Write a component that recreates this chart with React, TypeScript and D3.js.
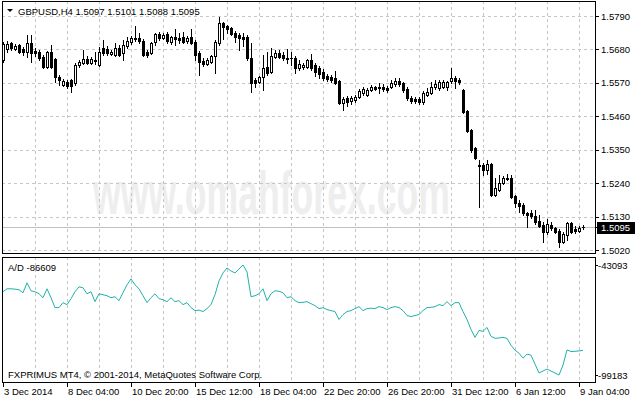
import React from "react";
import * as d3 from "d3";

const symbolTitle = "GBPUSD,H4  1.5097 1.5101 1.5088 1.5095";
const adLabel = "A/D -86609";
const copyright = "FXPRIMUS MT4, © 2001-2014, MetaQuotes Software Corp.";
const watermark = "www.omahforex.com";

const opens = [
  1.5645, 1.5681, 1.5701, 1.5681, 1.5694, 1.5681, 1.5671, 1.5701, 1.5675, 1.5671,
  1.5655, 1.5622, 1.5671, 1.5648, 1.5589, 1.5563, 1.5573, 1.5579, 1.5569, 1.5629,
  1.5635, 1.5648, 1.5635, 1.5645, 1.5629, 1.5685, 1.5681, 1.5665, 1.5662, 1.5685,
  1.5668, 1.5691, 1.5704, 1.5714, 1.5718, 1.5708, 1.5671, 1.5668, 1.5704, 1.5731,
  1.5718, 1.5731, 1.5704, 1.5721, 1.5718, 1.5721, 1.5708, 1.5721, 1.5704, 1.5668,
  1.5642, 1.5632, 1.5638, 1.5658, 1.5701, 1.5767, 1.5757, 1.575, 1.5734, 1.5727,
  1.5721, 1.5721, 1.5652, 1.5579, 1.5573, 1.5589, 1.5622, 1.5606, 1.5655, 1.5668,
  1.5662, 1.5652, 1.5652, 1.5652, 1.5619, 1.5622, 1.5622, 1.5645, 1.5629, 1.5619,
  1.5606, 1.5592, 1.5589, 1.5586, 1.5576, 1.5503, 1.552, 1.551, 1.5513, 1.5523,
  1.5536, 1.553, 1.5546, 1.5556, 1.5553, 1.5556, 1.5553, 1.5556, 1.5566, 1.5576,
  1.5569, 1.555, 1.552, 1.5517, 1.5517, 1.5507, 1.553, 1.5536, 1.5556, 1.5553,
  1.5556, 1.5556, 1.5576, 1.5586, 1.5579, 1.5546, 1.5477, 1.5414, 1.5355, 1.5299,
  1.5299, 1.5283, 1.5302, 1.52, 1.5217, 1.524, 1.5256, 1.5256, 1.5197, 1.5174,
  1.5167, 1.5141, 1.5141, 1.5131, 1.5115, 1.5102, 1.5079, 1.5102, 1.5092, 1.5082,
  1.5046, 1.5069, 1.5108, 1.5088, 1.5082, 1.5097,
];
const highs = [
  1.5704, 1.5708, 1.5704, 1.5698, 1.5698, 1.5688, 1.5727, 1.5727, 1.5685, 1.5678,
  1.5662, 1.5675, 1.5694, 1.5652, 1.5596, 1.5582, 1.5579, 1.5582, 1.5635, 1.5645,
  1.5678, 1.5658, 1.5655, 1.5671, 1.5688, 1.5711, 1.5691, 1.5678, 1.5701, 1.5694,
  1.5711, 1.5721, 1.5724, 1.5757, 1.5734, 1.5714, 1.5678, 1.5704, 1.5734, 1.5737,
  1.5734, 1.5737, 1.5724, 1.5747, 1.5734, 1.5737, 1.5724, 1.5747, 1.5711, 1.5675,
  1.5652, 1.5652, 1.5662, 1.5711, 1.5787, 1.577, 1.576, 1.5754, 1.5741, 1.5734,
  1.5734, 1.5727, 1.5701, 1.5586, 1.5592, 1.5662, 1.5671, 1.5685, 1.5678, 1.5678,
  1.5671, 1.5681, 1.5671, 1.5658, 1.5645, 1.5635, 1.5648, 1.5665, 1.5635, 1.5625,
  1.5615, 1.5599, 1.5596, 1.5609, 1.5579, 1.5523, 1.5526, 1.5526, 1.553, 1.555,
  1.5556, 1.5553, 1.5563, 1.5559, 1.5569, 1.5566, 1.5559, 1.5579, 1.5586, 1.5586,
  1.5573, 1.5556, 1.5526, 1.5523, 1.5523, 1.5543, 1.5553, 1.5573, 1.5579, 1.5579,
  1.5579, 1.5576, 1.5619, 1.5592, 1.5586, 1.555, 1.548, 1.5418, 1.5358, 1.5316,
  1.5306, 1.5316, 1.5306, 1.5256, 1.5266, 1.5263, 1.527, 1.5266, 1.52, 1.5184,
  1.5174, 1.5144, 1.5151, 1.5151, 1.5134, 1.5111, 1.5121, 1.5111, 1.5095, 1.5088,
  1.5079, 1.5111, 1.5111, 1.5098, 1.5098, 1.5101,
];
const lows = [
  1.5638, 1.5671, 1.5678, 1.5678, 1.5668, 1.5662, 1.5655, 1.5638, 1.5658, 1.5645,
  1.5619, 1.5619, 1.5619, 1.5573, 1.5563, 1.5559, 1.5553, 1.554, 1.5563, 1.5622,
  1.5632, 1.5632, 1.5632, 1.5632, 1.5625, 1.5662, 1.5662, 1.5662, 1.5658, 1.5658,
  1.5645, 1.5685, 1.5698, 1.5708, 1.5701, 1.5658, 1.5655, 1.5665, 1.5694, 1.5711,
  1.5714, 1.5701, 1.5698, 1.5694, 1.5701, 1.5701, 1.5701, 1.5698, 1.5645, 1.5596,
  1.5625, 1.5629, 1.5635, 1.5602, 1.5694, 1.5714, 1.5734, 1.5727, 1.5704, 1.5678,
  1.5691, 1.5645, 1.554, 1.5556, 1.5569, 1.5546, 1.5596, 1.5602, 1.5652, 1.5652,
  1.5645, 1.5635, 1.5629, 1.5602, 1.5612, 1.5615, 1.5619, 1.5612, 1.5592, 1.5586,
  1.5579, 1.5576, 1.5573, 1.5566, 1.55, 1.548, 1.5494, 1.55, 1.5507, 1.552,
  1.553, 1.5526, 1.5543, 1.5546, 1.5536, 1.5543, 1.554, 1.5553, 1.5559, 1.5559,
  1.554, 1.5513, 1.5503, 1.5503, 1.55, 1.55, 1.5526, 1.5533, 1.555, 1.5546,
  1.5553, 1.5546, 1.5569, 1.5553, 1.5566, 1.547, 1.5408, 1.5342, 1.5319, 1.5161,
  1.5266, 1.527, 1.5197, 1.5197, 1.5214, 1.5237, 1.525, 1.519, 1.5161, 1.5144,
  1.5134, 1.5095, 1.5125, 1.5105, 1.5095, 1.5046, 1.5072, 1.5085, 1.5075, 1.5029,
  1.5042, 1.5052, 1.5075, 1.5075, 1.5079, 1.5088,
];
const closes = [
  1.5698, 1.5698, 1.5685, 1.5691, 1.5671, 1.5671, 1.5701, 1.5668, 1.5668, 1.5652,
  1.5622, 1.5671, 1.5622, 1.5589, 1.5579, 1.5576, 1.5559, 1.5559, 1.5629, 1.5638,
  1.5648, 1.5635, 1.5648, 1.5642, 1.5671, 1.5668, 1.5668, 1.5671, 1.5685, 1.5662,
  1.5694, 1.5708, 1.5718, 1.5718, 1.5708, 1.5662, 1.5662, 1.5701, 1.5731, 1.5718,
  1.5727, 1.5708, 1.5721, 1.5714, 1.5711, 1.5704, 1.5718, 1.5701, 1.5662, 1.5638,
  1.5632, 1.5645, 1.5658, 1.5704, 1.5767, 1.5754, 1.5747, 1.5731, 1.5721, 1.5718,
  1.5714, 1.5652, 1.5569, 1.5569, 1.5589, 1.5619, 1.5602, 1.5658, 1.5668, 1.5655,
  1.5652, 1.5648, 1.5651, 1.5619, 1.5632, 1.5629, 1.5645, 1.5619, 1.5606, 1.5599,
  1.5586, 1.5582, 1.5579, 1.5569, 1.5503, 1.5517, 1.5507, 1.552, 1.5523, 1.5543,
  1.555, 1.5546, 1.5556, 1.555, 1.5555, 1.555, 1.5546, 1.5569, 1.5576, 1.5566,
  1.5546, 1.552, 1.551, 1.551, 1.5507, 1.5536, 1.554, 1.5556, 1.5566, 1.5573,
  1.5573, 1.5573, 1.5586, 1.5576, 1.5573, 1.5474, 1.5411, 1.5349, 1.5322, 1.5296,
  1.5283, 1.5302, 1.52, 1.5223, 1.524, 1.5256, 1.5255, 1.5194, 1.5174, 1.5164,
  1.5141, 1.5134, 1.5131, 1.5111, 1.5098, 1.5079, 1.5105, 1.5092, 1.5079, 1.5046,
  1.5072, 1.5108, 1.5079, 1.5082, 1.5092, 1.5095,
];
const adValues = [
  -56740, -55220, -55220, -55400, -55730, -57240, -52190, -56230, -56740, -57750,
  -59770, -55220, -59770, -64820, -64820, -62290, -63300, -60270, -56740, -54210,
  -54710, -57750, -56740, -61790, -57750, -58250, -58760, -59770, -59260, -61280,
  -57240, -53200, -50170, -53200, -55220, -58760, -62290, -59770, -57750, -60270,
  -60780, -61790, -59770, -61790, -61280, -63300, -62290, -64820, -66340, -66100,
  -66840, -65330, -63300, -58250, -51180, -47140, -44610, -46130, -47140, -45110,
  -43093, -46630, -59260, -58760, -57750, -55220, -61280, -57750, -56230, -56500,
  -57240, -59770, -59260, -61280, -62290, -62100, -61790, -62800, -63810, -65330,
  -64820, -65830, -66340, -66840, -70890, -68360, -66840, -66340, -65330, -64320,
  -66340, -65330, -65100, -65330, -64320, -64820, -65830, -64820, -64320, -64820,
  -66340, -68860, -69370, -68860, -68360, -66340, -64820, -64700, -64320, -63300,
  -63810, -61790, -63810, -62290, -62290, -66840, -70890, -75940, -79980, -76440,
  -76950, -74930, -79480, -80490, -80300, -79980, -80490, -84020, -86550, -88060,
  -90590, -88570, -89080, -93620, -98170, -97160, -96150, -97160, -98170, -99183,
  -94130, -86400, -87200, -87100, -86900, -86609,
];
const priceTicks = [1.579, 1.568, 1.557, 1.546, 1.535, 1.524, 1.513, 1.502];
const adTicks = [-43093, -99183];
const timeLabels = [
  "3 Dec 2014", "8 Dec 04:00", "10 Dec 20:00", "15 Dec 12:00", "18 Dec 04:00",
  "22 Dec 20:00", "26 Dec 20:00", "31 Dec 12:00", "6 Jan 12:00", "9 Jan 04:00",
];
const lastPrice = 1.5095;

const W = 635;
const H = 400;
const LEFT = 2;
const RIGHT = 595;
const MAIN_TOP = 1;
const MAIN_BOTTOM = 253;
const IND_TOP = 257;
const IND_BOTTOM = 382;
const FONT = "'Liberation Sans', Arial, sans-serif";

export default function App() {
  const n = closes.length;
  const x = d3.scaleLinear().domain([0, n - 1]).range([3, 3 + 4 * (n - 1)]);
  const y = d3.scaleLinear().domain([1.502, 1.579]).range([250, 16]);
  const yAd = d3.scaleLinear().domain([-99183, -43093]).range([375, 265]);
  const px = (v: number) => Math.round(v) + 0.5;

  const adLine = d3
    .line<number>()
    .x((_, i) => x(i))
    .y((d) => yAd(d));

  const gridBars = d3.range(8, n, 8);
  const labelBars = d3.range(0, n, 16);

  const grid = (top: number, bottom: number, horizontal: boolean) => (
    <g stroke="#c6c6c6" strokeDasharray="3,3" shapeRendering="crispEdges">
      {gridBars.map((b) => (
        <line key={"v" + b} x1={px(x(b))} x2={px(x(b))} y1={top} y2={bottom} />
      ))}
      {horizontal &&
        priceTicks.map((t) => (
          <line key={"h" + t} x1={LEFT} x2={RIGHT} y1={px(y(t))} y2={px(y(t))} />
        ))}
    </g>
  );

  return (
    <svg
      width={W}
      height={H}
      style={{ position: "absolute", left: 0, top: 0, background: "#fff" }}
      fontFamily={FONT}
    >
      <rect width={W} height={H} fill="#fff" />
      {/* watermark */}
      <text
        x={93}
        y={214}
        fontFamily="'Liberation Sans Narrow', 'Liberation Sans', Arial, sans-serif"
        fontWeight="bold"
        fontSize={62}
        fill="#eeeeee"
        textLength={357}
        lengthAdjust="spacingAndGlyphs"
      >
        {watermark}
      </text>
      {grid(MAIN_TOP, MAIN_BOTTOM, true)}
      {grid(IND_TOP, IND_BOTTOM, false)}

      {/* current price line */}
      <line
        x1={LEFT}
        x2={RIGHT}
        y1={px(y(lastPrice))}
        y2={px(y(lastPrice))}
        stroke="#c0c0c0"
        shapeRendering="crispEdges"
      />

      {/* candles */}
      <g shapeRendering="crispEdges">
        {closes.map((c, i) => {
          const o = opens[i];
          const cx = Math.round(x(i));
          const top = Math.round(y(Math.max(o, c)));
          const bot = Math.round(y(Math.min(o, c)));
          const bull = c >= o;
          return (
            <g key={i}>
              <line
                x1={cx + 0.5}
                x2={cx + 0.5}
                y1={Math.round(y(highs[i]))}
                y2={Math.round(y(lows[i])) + 1}
                stroke="#000"
              />
              {bot - top >= 1 ? (
                <rect
                  x={cx - 0.5}
                  y={top + 0.5}
                  width={2}
                  height={bot - top}
                  fill={bull ? "#fff" : "#000"}
                  stroke="#000"
                />
              ) : (
                <line x1={cx - 1} x2={cx + 2} y1={top + 0.5} y2={top + 0.5} stroke="#000" />
              )}
            </g>
          );
        })}
      </g>

      {/* A/D line */}
      <path d={adLine(adValues) ?? ""} fill="none" stroke="#20b2aa" strokeWidth={1} />

      {/* frames */}
      <g fill="none" stroke="#000" shapeRendering="crispEdges">
        <rect x={LEFT + 0.5} y={MAIN_TOP + 0.5} width={RIGHT - LEFT} height={MAIN_BOTTOM - MAIN_TOP} />
        <rect x={LEFT + 0.5} y={IND_TOP + 0.5} width={RIGHT - LEFT} height={IND_BOTTOM - IND_TOP} />
      </g>

      {/* title */}
      <path d="M7,9 L13,9 L10,12 Z" fill="#000" />
      <text x={18} y={15} fontSize={9.5} fill="#000">
        {symbolTitle}
      </text>

      {/* price axis */}
      <g fontSize={9.5} fill="#000">
        {priceTicks.map((t) => (
          <g key={t}>
            <line
              x1={RIGHT}
              x2={RIGHT + 4}
              y1={px(y(t))}
              y2={px(y(t))}
              stroke="#000"
              shapeRendering="crispEdges"
            />
            <text x={601} y={y(t) + 3.5}>
              {t.toFixed(4)}
            </text>
          </g>
        ))}
        <rect x={597} y={222} width={38} height={12} fill="#000" />
        <line x1={RIGHT} x2={RIGHT + 3} y1={px(y(lastPrice))} y2={px(y(lastPrice))} stroke="#000" shapeRendering="crispEdges" />
        <text x={601} y={y(lastPrice) + 3.5} fill="#fff">
          {lastPrice.toFixed(4)}
        </text>
      </g>

      {/* indicator axis */}
      <g fontSize={9.5} fill="#000">
        {adTicks.map((t) => (
          <g key={t}>
            <line
              x1={RIGHT}
              x2={RIGHT + 3}
              y1={px(yAd(t))}
              y2={px(yAd(t))}
              stroke="#000"
              shapeRendering="crispEdges"
            />
            <text x={598} y={yAd(t) + 3.5}>
              {t}
            </text>
          </g>
        ))}
        <text x={8} y={271}>
          {adLabel}
        </text>
        <text x={8} y={378}>
          {copyright}
        </text>
      </g>

      {/* time axis */}
      <g fontSize={9.5} fill="#000">
        {labelBars.map((b, k) => (
          <g key={b}>
            <line
              x1={px(x(b))}
              x2={px(x(b))}
              y1={IND_BOTTOM}
              y2={IND_BOTTOM + 5}
              stroke="#000"
              shapeRendering="crispEdges"
            />
            <text x={x(b) + 1} y={395}>
              {timeLabels[k]}
            </text>
          </g>
        ))}
      </g>
    </svg>
  );
}
